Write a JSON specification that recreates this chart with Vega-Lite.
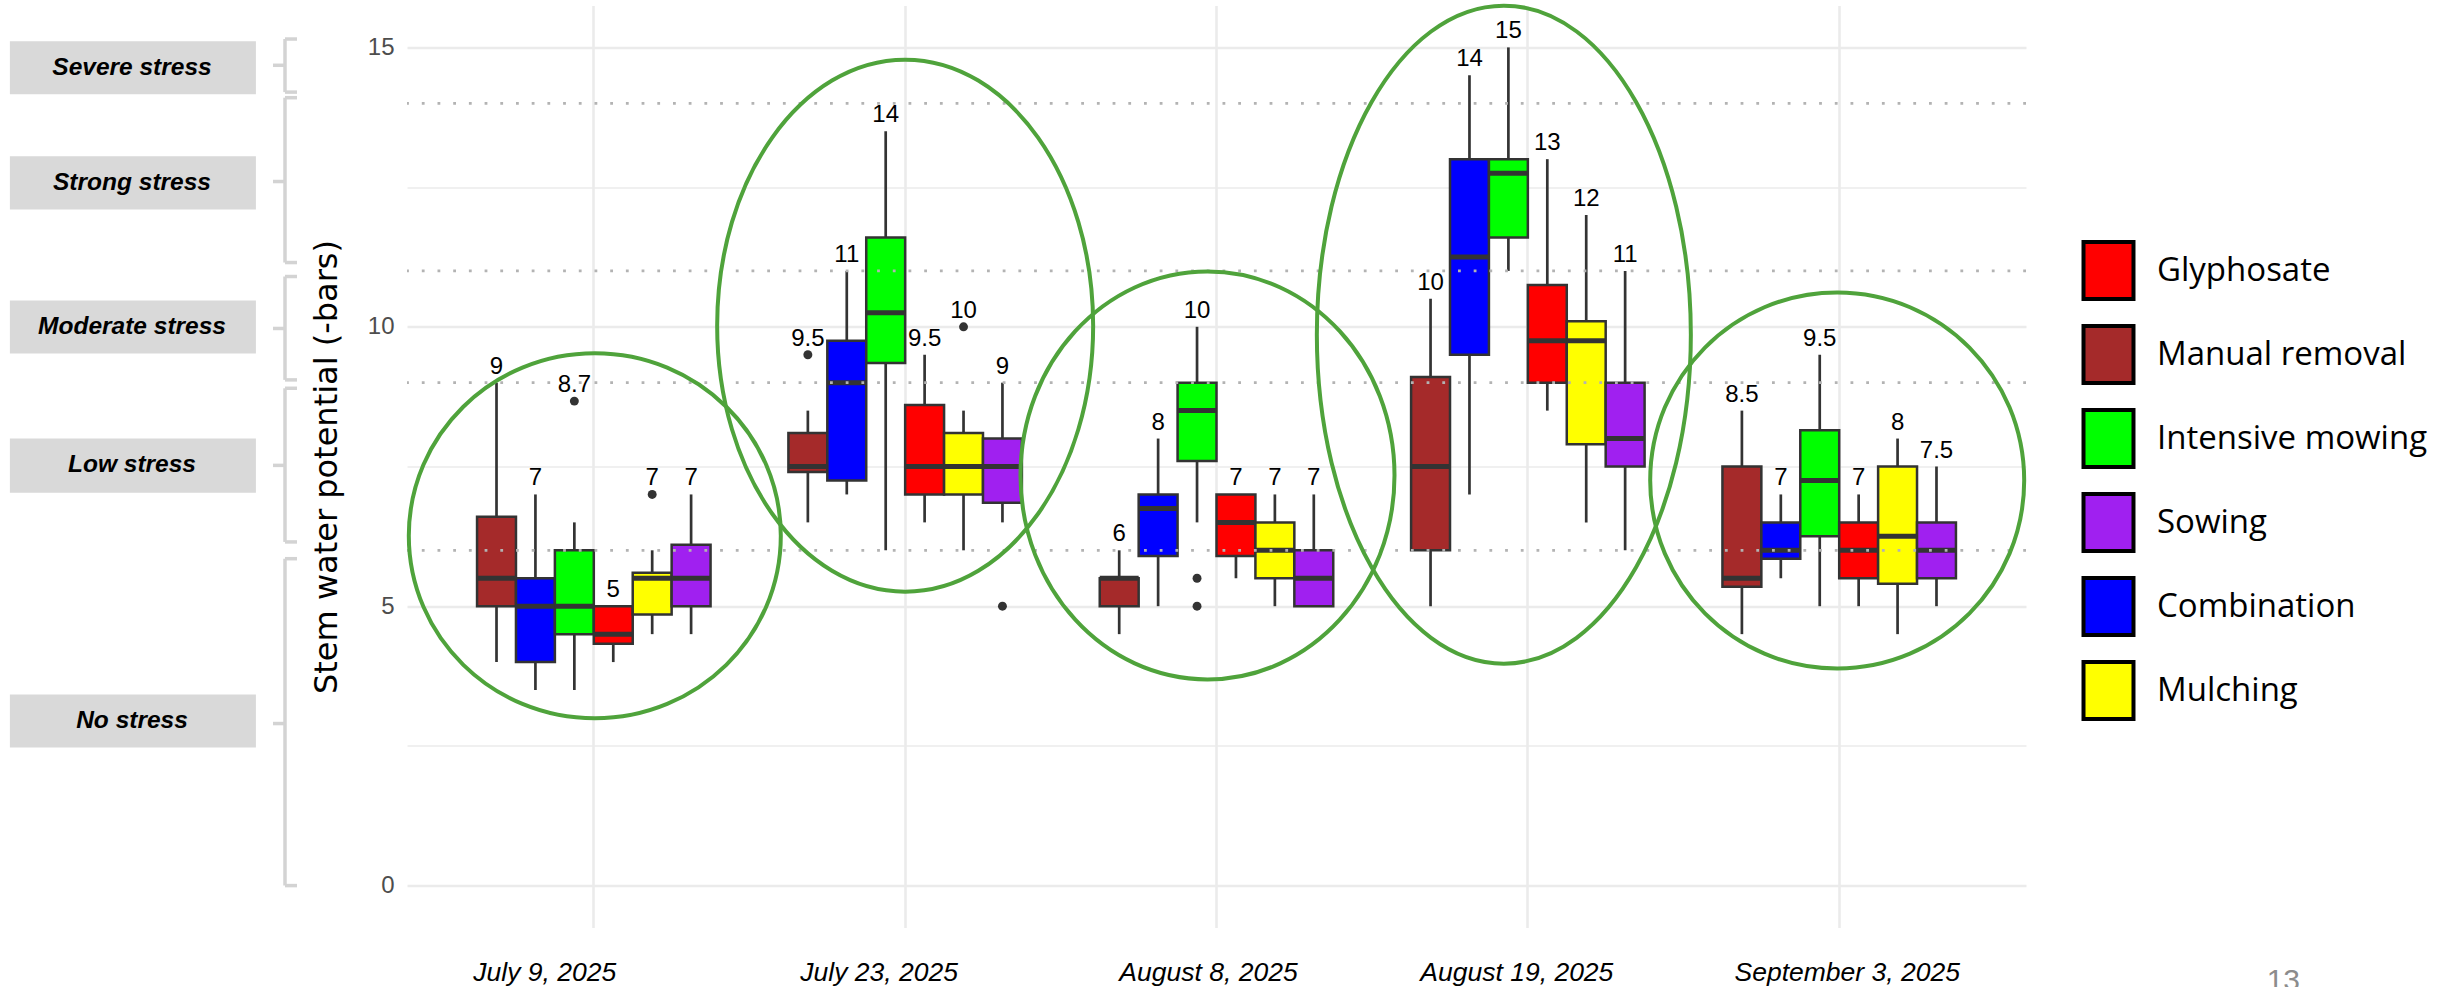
{
  "$schema": "https://vega.github.io/schema/vega-lite/v6.json",
  "padding": {"left": 0, "top": -2.5, "right": 0, "bottom": 0},
  "background": "white",
  "spacing": 10,
  "title": {"text": "13", "orient": "bottom", "anchor": "end", "frame": "bounds", "offset": 0, "dx": -128, "dy": -20, "font": "Liberation Sans", "fontSize": 30, "fontWeight": "normal", "color": "#8c8c8c"},
  "config": {"view": {"stroke": null}, "font": "Liberation Sans"},
  "datasets": {
    "boxes": [
      {"date": "July 9, 2025", "treatment": "Manual removal", "lo": 4.0, "q1": 5.0, "med": 5.5, "q3": 6.6, "hi": 9.0, "top": 9.0, "label": "9"},
      {"date": "July 9, 2025", "treatment": "Combination", "lo": 3.5, "q1": 4.0, "med": 5.0, "q3": 5.5, "hi": 7.0, "top": 7.0, "label": "7"},
      {"date": "July 9, 2025", "treatment": "Intensive mowing", "lo": 3.5, "q1": 4.5, "med": 5.0, "q3": 6.0, "hi": 6.5, "top": 8.67, "label": "8.7"},
      {"date": "July 9, 2025", "treatment": "Glyphosate", "lo": 4.0, "q1": 4.33, "med": 4.5, "q3": 5.0, "hi": 5.0, "top": 5.0, "label": "5"},
      {"date": "July 9, 2025", "treatment": "Mulching", "lo": 4.5, "q1": 4.85, "med": 5.5, "q3": 5.6, "hi": 6.0, "top": 7.0, "label": "7"},
      {"date": "July 9, 2025", "treatment": "Sowing", "lo": 4.5, "q1": 5.0, "med": 5.5, "q3": 6.1, "hi": 7.0, "top": 7.0, "label": "7"},
      {"date": "July 23, 2025", "treatment": "Manual removal", "lo": 6.5, "q1": 7.4, "med": 7.5, "q3": 8.1, "hi": 8.5, "top": 9.5, "label": "9.5"},
      {"date": "July 23, 2025", "treatment": "Combination", "lo": 7.0, "q1": 7.25, "med": 9.0, "q3": 9.75, "hi": 11.0, "top": 11.0, "label": "11"},
      {"date": "July 23, 2025", "treatment": "Intensive mowing", "lo": 6.0, "q1": 9.35, "med": 10.25, "q3": 11.6, "hi": 13.5, "top": 13.5, "label": "14"},
      {"date": "July 23, 2025", "treatment": "Glyphosate", "lo": 6.5, "q1": 7.0, "med": 7.5, "q3": 8.6, "hi": 9.5, "top": 9.5, "label": "9.5"},
      {"date": "July 23, 2025", "treatment": "Mulching", "lo": 6.0, "q1": 7.0, "med": 7.5, "q3": 8.1, "hi": 8.5, "top": 10.0, "label": "10"},
      {"date": "July 23, 2025", "treatment": "Sowing", "lo": 6.5, "q1": 6.85, "med": 7.5, "q3": 8.0, "hi": 9.0, "top": 9.0, "label": "9"},
      {"date": "August 8, 2025", "treatment": "Manual removal", "lo": 4.5, "q1": 5.0, "med": 5.5, "q3": 5.5, "hi": 6.0, "top": 6.0, "label": "6"},
      {"date": "August 8, 2025", "treatment": "Combination", "lo": 5.0, "q1": 5.9, "med": 6.75, "q3": 7.0, "hi": 8.0, "top": 8.0, "label": "8"},
      {"date": "August 8, 2025", "treatment": "Intensive mowing", "lo": 6.5, "q1": 7.6, "med": 8.5, "q3": 9.0, "hi": 10.0, "top": 10.0, "label": "10"},
      {"date": "August 8, 2025", "treatment": "Glyphosate", "lo": 5.5, "q1": 5.9, "med": 6.5, "q3": 7.0, "hi": 7.0, "top": 7.0, "label": "7"},
      {"date": "August 8, 2025", "treatment": "Mulching", "lo": 5.0, "q1": 5.5, "med": 6.0, "q3": 6.5, "hi": 7.0, "top": 7.0, "label": "7"},
      {"date": "August 8, 2025", "treatment": "Sowing", "lo": 5.0, "q1": 5.0, "med": 5.5, "q3": 6.0, "hi": 7.0, "top": 7.0, "label": "7"},
      {"date": "August 19, 2025", "treatment": "Manual removal", "lo": 5.0, "q1": 6.0, "med": 7.5, "q3": 9.1, "hi": 10.5, "top": 10.5, "label": "10"},
      {"date": "August 19, 2025", "treatment": "Combination", "lo": 7.0, "q1": 9.5, "med": 11.25, "q3": 13.0, "hi": 14.5, "top": 14.5, "label": "14"},
      {"date": "August 19, 2025", "treatment": "Intensive mowing", "lo": 11.0, "q1": 11.6, "med": 12.75, "q3": 13.0, "hi": 15.0, "top": 15.0, "label": "15"},
      {"date": "August 19, 2025", "treatment": "Glyphosate", "lo": 8.5, "q1": 9.0, "med": 9.75, "q3": 10.75, "hi": 13.0, "top": 13.0, "label": "13"},
      {"date": "August 19, 2025", "treatment": "Mulching", "lo": 6.5, "q1": 7.9, "med": 9.75, "q3": 10.1, "hi": 12.0, "top": 12.0, "label": "12"},
      {"date": "August 19, 2025", "treatment": "Sowing", "lo": 6.0, "q1": 7.5, "med": 8.0, "q3": 9.0, "hi": 11.0, "top": 11.0, "label": "11"},
      {"date": "September 3, 2025", "treatment": "Manual removal", "lo": 4.5, "q1": 5.35, "med": 5.5, "q3": 7.5, "hi": 8.5, "top": 8.5, "label": "8.5"},
      {"date": "September 3, 2025", "treatment": "Combination", "lo": 5.5, "q1": 5.85, "med": 6.0, "q3": 6.5, "hi": 7.0, "top": 7.0, "label": "7"},
      {"date": "September 3, 2025", "treatment": "Intensive mowing", "lo": 5.0, "q1": 6.25, "med": 7.25, "q3": 8.15, "hi": 9.5, "top": 9.5, "label": "9.5"},
      {"date": "September 3, 2025", "treatment": "Glyphosate", "lo": 5.0, "q1": 5.5, "med": 6.0, "q3": 6.5, "hi": 7.0, "top": 7.0, "label": "7"},
      {"date": "September 3, 2025", "treatment": "Mulching", "lo": 4.5, "q1": 5.4, "med": 6.25, "q3": 7.5, "hi": 8.0, "top": 8.0, "label": "8"},
      {"date": "September 3, 2025", "treatment": "Sowing", "lo": 5.0, "q1": 5.5, "med": 6.0, "q3": 6.5, "hi": 7.5, "top": 7.5, "label": "7.5"}
    ],
    "outliers": [
      {"date": "July 9, 2025", "treatment": "Intensive mowing", "value": 8.67},
      {"date": "July 9, 2025", "treatment": "Mulching", "value": 7.0},
      {"date": "July 23, 2025", "treatment": "Manual removal", "value": 9.5},
      {"date": "July 23, 2025", "treatment": "Mulching", "value": 10.0},
      {"date": "July 23, 2025", "treatment": "Sowing", "value": 5.0},
      {"date": "August 8, 2025", "treatment": "Intensive mowing", "value": 5.5},
      {"date": "August 8, 2025", "treatment": "Intensive mowing", "value": 5.0}
    ],
    "thresholds": [{"threshold": 6}, {"threshold": 9}, {"threshold": 11}, {"threshold": 14}],
    "ellipses": [
      {"date": "July 9, 2025", "yc": 6.26, "id": "e1"},
      {"date": "July 23, 2025", "yc": 10.02, "id": "e2"},
      {"date": "August 8, 2025", "yc": 7.34, "id": "e3"},
      {"date": "August 19, 2025", "yc": 9.86, "id": "e4"},
      {"date": "September 3, 2025", "yc": 7.25, "id": "e5"}
    ],
    "stress": [
      {"level": "Severe stress", "box_lo": 14.16, "box_hi": 15.11, "box_mid": 14.64, "br_lo": 14.2, "br_hi": 15.15, "br_mid": 14.68},
      {"level": "Strong stress", "box_lo": 12.1, "box_hi": 13.05, "box_mid": 12.57, "br_lo": 11.15, "br_hi": 14.1, "br_mid": 12.6},
      {"level": "Moderate stress", "box_lo": 9.52, "box_hi": 10.47, "box_mid": 10.0, "br_lo": 9.05, "br_hi": 10.9, "br_mid": 9.97},
      {"level": "Low stress", "box_lo": 7.03, "box_hi": 8.0, "box_mid": 7.52, "br_lo": 6.15, "br_hi": 8.9, "br_mid": 7.52},
      {"level": "No stress", "box_lo": 2.47, "box_hi": 3.42, "box_mid": 2.95, "br_lo": 0.0, "br_hi": 5.85, "br_mid": 2.9}
    ]
  },
  "resolve": {"scale": {"x": "independent", "y": "independent"}},
  "hconcat": [
    {
      "width": 300,
      "height": 922,
      "data": {"name": "stress"},
      "layer": [
        {
          "mark": {"type": "rect", "fill": "#d9d9d9"},
          "encoding": {
            "x": {"datum": 0.033, "type": "quantitative", "scale": {"domain": [0, 1], "nice": false, "zero": false}, "axis": null},
            "x2": {"datum": 0.853},
            "y": {"field": "box_lo", "type": "quantitative", "scale": {"domain": [-0.75, 15.75], "nice": false, "zero": false}, "axis": null},
            "y2": {"field": "box_hi"}
          }
        },
        {
          "mark": {"type": "text", "font": "Liberation Sans", "fontStyle": "italic", "fontWeight": "bold", "fontSize": 24.5, "align": "center", "baseline": "middle", "color": "#000000"},
          "encoding": {
            "x": {"datum": 0.44, "type": "quantitative"},
            "y": {"field": "box_mid", "type": "quantitative"},
            "text": {"field": "level"}
          }
        },
        {
          "mark": {"type": "rule", "color": "#d3d3d3", "strokeWidth": 3.5},
          "encoding": {
            "x": {"datum": 0.95, "type": "quantitative"},
            "y": {"field": "br_lo", "type": "quantitative"},
            "y2": {"field": "br_hi"}
          }
        },
        {
          "mark": {"type": "rule", "color": "#d3d3d3", "strokeWidth": 3.5},
          "encoding": {
            "x": {"datum": 0.95, "type": "quantitative"},
            "x2": {"datum": 0.99},
            "y": {"field": "br_hi", "type": "quantitative"}
          }
        },
        {
          "mark": {"type": "rule", "color": "#d3d3d3", "strokeWidth": 3.5},
          "encoding": {
            "x": {"datum": 0.95, "type": "quantitative"},
            "x2": {"datum": 0.99},
            "y": {"field": "br_lo", "type": "quantitative"}
          }
        },
        {
          "mark": {"type": "rule", "color": "#d3d3d3", "strokeWidth": 3.5},
          "encoding": {
            "x": {"datum": 0.91, "type": "quantitative"},
            "x2": {"datum": 0.95},
            "y": {"field": "br_mid", "type": "quantitative"}
          }
        }
      ]
    },
    {
      "width": 1619,
      "height": 922,
      "layer": [
        {
          "data": {"name": "boxes"},
          "mark": {"type": "rule", "color": "#333333", "strokeWidth": 2.7},
          "encoding": {
            "x": {
              "field": "date", "type": "nominal",
              "scale": {"type": "band", "domain": ["July 9, 2025", "July 23, 2025", "August 8, 2025", "August 19, 2025", "September 3, 2025"], "paddingInner": 0, "paddingOuter": 0.1},
              "axis": {
                "title": null, "grid": true, "gridColor": "#ebebeb", "gridWidth": 2.6, "bandPosition": 0.5,
                "domain": false, "ticks": false, "labelAngle": 0, "labelOverlap": false,
                "labelFont": "Liberation Sans", "labelFontStyle": "italic", "labelFontSize": 26.5, "labelColor": "#000000",
                "labelBaseline": "alphabetic", "labelPadding": 53, "labelLimit": 400,
                "labelOffset": {"condition": [
                  {"test": "datum.value === 'July 9, 2025'", "value": -49},
                  {"test": "datum.value === 'July 23, 2025'", "value": -26},
                  {"test": "datum.value === 'August 8, 2025'", "value": -8},
                  {"test": "datum.value === 'August 19, 2025'", "value": -11}
                ], "value": 8}
              }
            },
            "xOffset": {
              "field": "treatment", "type": "nominal",
              "scale": {"type": "band", "domain": ["Manual removal", "Combination", "Intensive mowing", "Glyphosate", "Mulching", "Sowing"], "paddingInner": 0, "paddingOuter": 1}
            },
            "y": {
              "field": "lo", "type": "quantitative",
              "scale": {"domain": [-0.75, 15.75], "nice": false, "zero": false},
              "axis": {
                "title": "Stem water potential (-bars)",
                "values": [0, 2.5, 5, 7.5, 10, 12.5, 15],
                "labelExpr": "datum.value % 5 === 0 ? format(datum.value, 'd') : ''",
                "grid": true, "gridColor": "#ebebeb",
                "gridWidth": {"condition": {"test": "datum.value % 5 === 0", "value": 2.6}, "value": 1.3},
                "domain": false, "ticks": false,
                "labelFont": "Liberation Sans", "labelFontSize": 24, "labelColor": "#4d4d4d", "labelPadding": 13,
                "titleFont": "DejaVu Sans", "titleFontSize": 32, "titleFontWeight": "normal", "titleColor": "#000000", "titlePadding": 24
              }
            },
            "y2": {"field": "hi"}
          }
        },
        {
          "data": {"name": "boxes"},
          "mark": {"type": "bar", "stroke": "#333333", "strokeWidth": 2.5, "opacity": 1},
          "encoding": {
            "x": {"field": "date", "type": "nominal"},
            "xOffset": {"field": "treatment", "type": "nominal"},
            "y": {"field": "q1", "type": "quantitative"},
            "y2": {"field": "q3"},
            "color": {
              "field": "treatment", "type": "nominal",
              "scale": {"domain": ["Glyphosate", "Manual removal", "Intensive mowing", "Sowing", "Combination", "Mulching"], "range": ["#ff0000", "#a52a2a", "#00ff00", "#a020f0", "#0000ff", "#ffff00"]},
              "legend": {
                "orient": "none", "legendX": 2078, "legendY": 234.5,
                "title": null, "padding": 0,
                "symbolType": "M-0.877,-1H0.877V1H-0.877Z", "symbolSize": 3249,
                "symbolStrokeColor": "#000000", "symbolStrokeWidth": 4, "symbolOpacity": 1,
                "labelFont": "Open Sans", "labelFontSize": 33, "labelColor": "#000000", "labelOffset": 18, "labelLimit": 400,
                "rowPadding": 11,
                "encode": {"symbols": {"update": {
                  "fill": {"signal": "{'Glyphosate':'#ff0000','Manual removal':'#a52a2a','Intensive mowing':'#00ff00','Sowing':'#7030a0','Combination':'#0000ff','Mulching':'#ffff00'}[datum.value]"},
                  "stroke": {"value": "#000000"},
                  "strokeWidth": {"value": 4}
                }}}
              }
            }
          }
        },
        {
          "data": {"name": "boxes"},
          "mark": {"type": "tick", "orient": "horizontal", "color": "#333333", "thickness": 5, "size": 38.9, "opacity": 1},
          "encoding": {
            "x": {"field": "date", "type": "nominal"},
            "xOffset": {"field": "treatment", "type": "nominal"},
            "y": {"field": "med", "type": "quantitative"}
          }
        },
        {
          "data": {"name": "outliers"},
          "mark": {"type": "circle", "color": "#333333", "size": 80, "opacity": 1},
          "encoding": {
            "x": {"field": "date", "type": "nominal"},
            "xOffset": {"field": "treatment", "type": "nominal"},
            "y": {"field": "value", "type": "quantitative"}
          }
        },
        {
          "data": {"name": "thresholds"},
          "mark": {"type": "rule", "color": "#b3b3b3", "strokeWidth": 2.8, "strokeDash": [2.8, 12.9]},
          "encoding": {
            "y": {"field": "threshold", "type": "quantitative"}
          }
        },
        {
          "data": {"name": "boxes"},
          "mark": {"type": "text", "font": "Liberation Sans", "fontSize": 24, "color": "#000000", "baseline": "alphabetic", "align": "center", "dy": -9},
          "encoding": {
            "x": {"field": "date", "type": "nominal"},
            "xOffset": {"field": "treatment", "type": "nominal"},
            "y": {"field": "top", "type": "quantitative"},
            "text": {"field": "label"}
          }
        },
        {
          "data": {"name": "ellipses"},
          "mark": {"type": "point", "filled": false, "stroke": "#4fa33b", "strokeWidth": 4, "opacity": 1, "size": 4, "clip": false},
          "encoding": {
            "x": {"field": "date", "type": "nominal"},
            "y": {"field": "yc", "type": "quantitative"},
            "shape": {
              "field": "id", "type": "nominal", "legend": null,
              "scale": {
                "domain": ["e1", "e2", "e3", "e4", "e5"],
                "range": [
                  "M187 0C187 100.8 103.7 182.5 1 182.5C-101.7 182.5 -185 100.8 -185 0C-185 -100.8 -101.7 -182.5 1 -182.5C103.7 -182.5 187 -100.8 187 0Z",
                  "M188 0C188 146.9 103.8 266 0 266C-103.8 266 -188 146.9 -188 0C-188 -146.9 -103.8 -266 0 -266C103.8 -266 188 -146.9 188 0Z",
                  "M178 0C178 112.7 94.3 204 -9 204C-112.3 204 -196 112.7 -196 0C-196 -112.7 -112.3 -204 -9 -204C94.3 -204 178 -112.7 178 0Z",
                  "M163 0C163 181.7 79.3 329 -24 329C-127.3 329 -211 181.7 -211 0C-211 -181.7 -127.3 -329 -24 -329C79.3 -329 163 -181.7 163 0Z",
                  "M185 0C185 103.8 101.3 188 -2 188C-105.3 188 -189 103.8 -189 0C-189 -103.8 -105.3 -188 -2 -188C101.3 -188 185 -103.8 185 0Z"
                ]
              }
            }
          }
        }
      ]
    }
  ]
}
